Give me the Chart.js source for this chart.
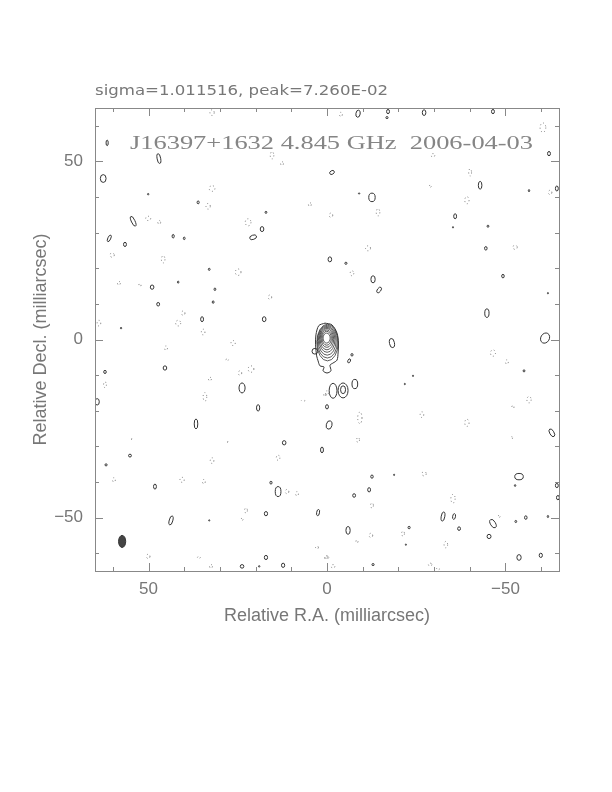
<!DOCTYPE html>
<html>
<head>
<meta charset="utf-8">
<script src="https://cdn.jsdelivr.net/npm/chart.js@4.4.0/dist/chart.umd.min.js"></script>
<style>
  html, body { margin: 0; padding: 0; background: #fff; }
  #wrap { width: 612px; height: 792px; position: relative; }
</style>
</head>
<body>
<div id="wrap"><canvas id="map"></canvas></div>
<script>
// header texts
const noteText = 'sigma=1.011516, peak=7.260E-02';
const titleText = 'J16397+1632 4.845 GHz  2006-04-03';
const xTitle = 'Relative R.A. (milliarcsec)';
const yTitle = 'Relative Decl. (milliarcsec)';
const axisMin = -65;
const axisMax = 65;

// nested contours of the core (mas)
const coreX = [0.10, 0.08, 0.05, 0.02, -0.02, -0.06, -0.10, -0.14];
const coreY = [0.40, 0.35, 0.25, 0.10, -0.10, -0.35, -0.60, -0.85];
const coreRx = [1.0, 1.3, 1.6, 1.9, 2.2, 2.5, 2.8, 3.0];
const coreRy = [1.4, 1.95, 2.45, 3.0, 3.5, 4.05, 4.6, 5.15];

// lowest contour of the core with its southern tail
const tailX = [0.56, -1.4, -2.8, -3.2, -3.1, -2.8, -1.7, -0.84, -1.1, 0.0, 1.1, 0.84, 1.96, 2.5, 2.9, 3.2, 3.1, 2.3, 0.56];
const tailY = [4.6, 4.1, 1.8, -1.0, -3.8, -5.8, -6.6, -7.2, -8.8, -9.4, -8.8, -7.7, -7.4, -6.0, -4.6, -1.5, 1.3, 3.9, 4.6];

// positive contour islands: centre, half axes (mas), tilt (deg)
const posX = [61.6, 47.1, 62.7, 50.1, 36.1, 54.3, 61.0, 56.6, 43.1, 40.0, 17.1, 18.2, 20.7, 33.0, 49.0, 41.7, 31.4, 47.3, 31.9, 35.0, 17.6, 57.7,
  -8.7, -17.1, -16.8, -27.2, -46.5, -62.2, -1.4, -42.9, -56.6, -64.4, -12.6, -9.0, -35.9, -45.1, -35.3, -44.5, -0.8, -5.3, -49.3, -12.9, -14.6, -61.9, -44.8, -61.1, -18.2,
  62.2, 64.4, 45.4, 23.8, 19.3, 36.7, 12.0, 1.4, 0.0, 55.2, 61.9, 48.2, 13.7, 15.7, 17.1, 2.5, 43.7, 33.0, 17.1, 23.8, 12.3, 19.0,
  -7.0, -6.2, -24.1, -21.8, -55.2, -0.6, -63.0, -12.6, -18.8, -53.8, -52.7, -64.4, -64.7, -11.8, -7.6, -32.5, -35.6, -37.0, -23.0, -5.9, -22.1, -46.5, -45.4, -52.9, -55.7, -61.9, -53.8, -59.9, -12.9,
  -1.7, -4.5, -4.5, -7.8, 3.4];
const posY = [55.2, 50.8, 45.2, 40.8, 38.5, 33.2, 28.4, 26.7, 29.0, 28.4, 35.7, 31.0, 28.7, 19.7, 14.7, 16.1, 14.1, 9.9, 10.5, 5.7, 5.7, 3.2,
  63.4, 64.0, 62.3, 63.7, 64.0, 52.2, 46.9, 43.3, 41.8, 42.4, 39.9, 41.0, 34.6, 31.8, 31.5, 25.6, 22.5, 21.4, 17.8, 16.9, 13.9, 13.0, 7.4, 0.4, -1.0,
  -9.1, -17.5, -8.0, -13.6, -19.2, -23.7, -29.0, -31.0, -18.9, -32.6, -35.2, -41.3, -42.7, -40.2, -48.9, -48.6, -50.8, -50.8, -61.2, -63.7, -63.4, -63.7,
  -4.3, -6.0, -10.2, -12.5, -8.8, -24.0, -26.2, -38.5, -38.0, -38.5, -41.0, -41.0, -44.4, -42.2, -43.8, -49.7, -49.7, -53.1, -52.8, -53.6, -57.6, -51.7, -55.3, -51.1, -50.0, -49.7, -61.2, -60.6, -63.2,
  -14.4, -14.3, -14.1, -12.5, -3.3];
const posRx = [0.3, 0.5, 0.8, 0.2, 0.3, 0.5, 0.4, 0.4, 0.3, 0.25, 0.25, 0.5, 1.0, 0.25, 0.5, 0.2, 0.25, 0.4, 0.25, 0.4, 0.5, 0.2,
  0.6, 0.4, 0.3, 0.5, 0.4, 0.4, 0.7, 0.5, 0.2, 0.4, 0.9, 0.2, 0.4, 0.25, 0.15, 0.35, 0.5, 0.3, 0.35, 0.6, 0.5, 0.15, 0.6, 1.2, 0.7,
  0.35, 0.6, 0.5, 0.85, 0.45, 0.5, 0.5, 0.4, 0.4, 0.4, 0.3, 0.4, 0.8, 0.3, 0.45, 0.4, 0.5, 0.15, 0.45, 0.5, 0.45, 0.2,
  0.3, 0.35, 0.15, 0.15, 0.25, 0.8, 0.6, 0.35, 0.15, 1.2, 0.2, 0.4, 0.4, 0.4, 0.4, 0.5, 0.4, 0.4, 0.3, 0.6, 0.15, 0.7, 0.55, 0.25, 0.35, 0.2, 0.6, 0.45, 0.3,
  1.1, 1.4, 0.7, 0.8, 0.8];
const posRy = [0.8, 1.4, 1.1, 0.2, 0.4, 1.5, 1.0, 0.6, 0.5, 0.35, 0.3, 0.7, 0.6, 0.3, 0.6, 0.3, 0.35, 0.5, 0.35, 0.7, 0.7, 0.2,
  1.0, 0.6, 0.3, 0.8, 0.6, 0.6, 0.5, 1.1, 0.3, 0.7, 1.2, 0.15, 0.7, 0.3, 0.2, 0.5, 0.7, 0.3, 0.5, 1.0, 0.9, 0.2, 1.2, 1.5, 1.3,
  0.45, 0.9, 0.6, 1.4, 0.9, 1.4, 0.6, 0.8, 0.6, 0.4, 0.3, 0.7, 1.4, 0.4, 0.6, 0.9, 1.3, 0.2, 0.6, 0.5, 0.6, 0.2,
  0.35, 0.6, 0.2, 0.2, 0.3, 1.2, 1.2, 0.45, 0.2, 0.9, 0.25, 0.6, 0.6, 0.6, 0.5, 1.3, 0.8, 0.5, 0.35, 1.1, 0.2, 1.3, 0.6, 0.3, 0.5, 0.3, 0.8, 0.6, 0.3,
  2.1, 2.1, 1.1, 1.3, 0.8];
const posRot = [0, -10, 0, 0, 0, -25, 25, 0, 0, 0, 0, 0, -20, 0, 0, 0, 0, 0, 0, 0, 0, 0,
  10, 0, 0, 0, 0, 0, -30, 0, 0, 0, 0, 0, 0, 0, 0, 0, 0, 0, 0, 0, 35, 0, 0, 30, -10,
  0, 0, 0, 0, 0, 0, 0, 0, 0, 0, 0, 0, 0, 0, 0, 10, 15, 0, 0, 0, 0, 0,
  0, 25, 0, 0, 0, 15, -30, 0, 0, 0, 0, 0, 0, 0, 0, 10, 10, 0, 0, 0, 0, -30, 0, 0, 0, 0, 0, 0, 0,
  0, 0, 0, 0, 0];

// negative contour islands (dotted)
const negX = [32.2, 32.2, 33.3, 15.4, 12.6, 4.8, 50.1, 47.0, 22.1, 60.2, 45.9, 24.9, 58.3, 52.4, 16.0, 63.9, 41.7, 40.3, 34.7,
  -3.9, -60.5, -29.7, -40.1, -39.2, -14.3, -1.1, -28.9, -11.5, -52.7, -7.0, -62.5,
  45.1, 26.3, 28.0, 21.3, 24.4, 32.8, 34.2, 62.2, 6.7, 0.0, 28.0, 54.9, 32.2, 13.7, 40.6, 34.5, 59.7, 11.2, 8.4, 22.7, 23.8, 50.1, 35.9, 32.5, 2.8, 0.0,
  -46.5, -50.4, -56.6, -52.1, -51.8, -9.2, -8.7, -26.6, -39.2, -27.2, -35.3, -12.6, -48.2, -21.3, -12.3, -8.4, -33.3, 0.3, -1.7, -28.9, -31.1, 0.6];
const negY = [63.7, 42.4, 37.4, 51.7, 49.4, 37.9, 34.0, 32.9, 32.9, 23.7, 22.5, 18.9, 15.8, 15.3, 11.9, 4.6, 4.6, 7.4, 2.1,
  63.2, 59.5, 51.7, 46.9, 39.1, 35.7, 34.9, 43.0, 25.6, 25.9, 18.6, 41.3,
  -2.4, -1.0, -5.7, -8.3, -9.4, -11.1, -16.1, -12.7, -17.2, -15.0, -28.7, -27.9, -34.0, -33.2, -39.4, -39.9, -39.4, -42.7, -43.3, -48.0, -50.5, -60.9, -61.2, -63.7, -58.4, -61.2,
  -3.8, -6.3, -16.9, -18.9, -27.6, -22.0, -28.2, -21.1, -23.4, -37.7, -44.7, -46.6, -49.7, -54.5, -55.0, -56.7, -57.6, -61.2, -63.7, -63.2, -64.4, -15.5];
const negRx = [0.6, 0.8, 0.6, 0.5, 0.4, 0.4, 0.7, 0.4, 0.8, 0.6, 0.5, 0.8, 0.4, 0.3, 0.5, 0.5, 0.7, 0.5, 0.5,
  0.4, 0.8, 0.5, 0.4, 0.6, 0.5, 0.5, 0.3, 0.7, 0.6, 0.5, 0.5,
  0.4, 0.6, 0.4, 0.8, 0.5, 0.4, 0.5, 0.4, 0.5, 0.4, 0.2, 0.2, 0.5, 0.5, 0.6, 0.4, 0.4, 0.5, 0.4, 0.4, 0.3, 0.5, 0.4, 0.4, 0.4, 0.5,
  0.7, 0.4, 0.6, 0.3, 0.2, 0.6, 0.4, 0.5, 0.6, 0.6, 0.6, 0.4, 0.3, 0.4, 0.5, 0.3, 0.5, 0.4, 0.5, 0.5, 0.4, 0.3];
const negRy = [0.8, 0.8, 0.8, 1.0, 0.5, 0.5, 0.6, 0.5, 1.0, 0.6, 1.0, 0.9, 0.5, 0.4, 0.6, 0.8, 0.8, 0.6, 0.8,
  0.6, 1.3, 0.5, 1.0, 1.0, 1.0, 0.6, 0.3, 0.7, 0.6, 0.7, 0.6,
  0.6, 0.7, 0.2, 0.9, 0.6, 0.5, 1.2, 0.8, 0.2, 0.6, 0.2, 0.2, 0.8, 0.7, 0.7, 0.6, 0.6, 0.6, 0.6, 0.7, 0.3, 0.6, 0.3, 0.5, 0.4, 0.4,
  0.9, 0.6, 0.9, 0.4, 0.3, 1.6, 0.7, 0.8, 1.0, 0.6, 1.2, 0.7, 0.3, 0.7, 0.6, 0.4, 0.9, 0.5, 0.5, 0.4, 0.3, 0.5];

// restoring beam
const beamX = [57.4];
const beamY = [-56.7];
const beamRx = [1.0];
const beamRy = [1.7];

const toPoints = (xs, ys) => xs.map((x, i) => ({x: x, y: ys[i]}));

const ellipsePlugin = {
    id: 'ellipses',
    afterDatasetsDraw(chart) {
        const ctx = chart.ctx;
        const xs = chart.scales.x;
        const ys = chart.scales.y;
        const unitX = Math.abs(xs.getPixelForValue(1) - xs.getPixelForValue(0));
        const unitY = Math.abs(ys.getPixelForValue(1) - ys.getPixelForValue(0));
        const area = chart.chartArea;

        ctx.save();
        ctx.beginPath();
        ctx.rect(area.left, area.top, area.right - area.left, area.bottom - area.top);
        ctx.clip();

        chart.data.datasets.forEach((ds, i) => {
            if (!ds.rx) return;
            const meta = chart.getDatasetMeta(i);
            meta.data.forEach((pt, j) => {
                const rot = ds.rot ? ds.rot[j] * Math.PI / 180 : 0;
                ctx.beginPath();
                ctx.ellipse(pt.x, pt.y, ds.rx[j] * unitX, ds.ry[j] * unitY, rot, 0, Math.PI * 2);
                if (ds.kind === 'filled') {
                    ctx.fillStyle = '#444';
                    ctx.fill();
                    ctx.setLineDash([]);
                    ctx.strokeStyle = '#333';
                    ctx.lineWidth = 1;
                    ctx.stroke();
                } else if (ds.kind === 'dotted') {
                    ctx.setLineDash([1, 2.5]);
                    ctx.strokeStyle = '#777';
                    ctx.lineWidth = 1;
                    ctx.stroke();
                } else {
                    ctx.setLineDash([]);
                    ctx.strokeStyle = '#333';
                    ctx.lineWidth = ds.lineWidth || 1;
                    ctx.stroke();
                }
            });
        });
        ctx.restore();
    }
};

const framePlugin = {
    id: 'frame',
    afterDraw(chart) {
        const ctx = chart.ctx;
        const a = chart.chartArea;
        const xs = chart.scales.x;
        const ys = chart.scales.y;

        ctx.save();
        ctx.strokeStyle = '#888';
        ctx.lineWidth = 1;
        ctx.strokeRect(a.left + 0.5, a.top + 0.5, a.right - a.left, a.bottom - a.top);

        // inward ticks every 10 mas, longer at the labelled ones
        ctx.beginPath();
        for (let v = -60; v <= 60; v += 10) {
            const len = v % 50 === 0 ? 8 : 4;
            const px = Math.round(xs.getPixelForValue(v)) + 0.5;
            ctx.moveTo(px, a.bottom);
            ctx.lineTo(px, a.bottom - len);
            ctx.moveTo(px, a.top);
            ctx.lineTo(px, a.top + len);
            const py = Math.round(ys.getPixelForValue(v)) + 0.5;
            ctx.moveTo(a.left, py);
            ctx.lineTo(a.left + len, py);
            ctx.moveTo(a.right, py);
            ctx.lineTo(a.right - len, py);
        }
        ctx.stroke();

        // header line and map title, stretched like the plotting fonts
        ctx.fillStyle = '#777';
        ctx.textBaseline = 'alphabetic';
        ctx.font = '14px "DejaVu Sans"';
        let w = ctx.measureText(noteText).width;
        ctx.save();
        ctx.translate(a.left, 95);
        ctx.scale(293 / w, 1);
        ctx.fillText(noteText, 0, 0);
        ctx.restore();

        ctx.fillStyle = '#858585';
        ctx.font = '19px "Liberation Serif"';
        w = ctx.measureText(titleText).width;
        ctx.save();
        ctx.translate(130, 149);
        ctx.scale(403 / w, 1);
        ctx.fillText(titleText, 0, 0);
        ctx.restore();

        ctx.restore();
    }
};

const tickFont = {family: '"Liberation Sans"', size: 17};
const labelFont = {family: '"Liberation Sans"', size: 18};
const fmt = v => (v < 0 ? '\u2212' + Math.abs(v) : String(v));

new Chart(document.getElementById('map'), {
    type: 'scatter',
    data: {
        datasets: [
            {
                label: 'tail',
                data: toPoints(tailX, tailY),
                showLine: true,
                borderColor: '#333',
                borderWidth: 1,
                tension: 0.3,
                pointRadius: 0,
                fill: false
            },
            {
                label: 'core',
                data: toPoints(coreX, coreY),
                rx: coreRx, ry: coreRy, kind: 'solid', lineWidth: 0.8,
                pointRadius: 0
            },
            {
                label: 'positive',
                data: toPoints(posX, posY),
                rx: posRx, ry: posRy, rot: posRot, kind: 'solid',
                pointRadius: 0
            },
            {
                label: 'negative',
                data: toPoints(negX, negY),
                rx: negRx, ry: negRy, kind: 'dotted',
                pointRadius: 0
            },
            {
                label: 'beam',
                data: toPoints(beamX, beamY),
                rx: beamRx, ry: beamRy, kind: 'filled',
                pointRadius: 0
            }
        ]
    },
    options: {
        responsive: true,
        maintainAspectRatio: false,
        animation: false,
        devicePixelRatio: 1,
        events: [],
        layout: {
            padding: {left: 0, top: 108, right: 53, bottom: 161}
        },
        plugins: {
            legend: {display: false},
            tooltip: {enabled: false}
        },
        scales: {
            x: {
                type: 'linear',
                position: 'bottom',
                min: axisMin,
                max: axisMax,
                reverse: true,
                afterFit: scale => { scale.height = 60; },
                grid: {display: false, drawTicks: false},
                border: {display: false},
                ticks: {
                    stepSize: 50,
                    includeBounds: false,
                    padding: 8,
                    color: '#777',
                    font: tickFont,
                    maxRotation: 0,
                    callback: fmt
                },
                title: {
                    display: true,
                    text: xTitle,
                    color: '#777',
                    font: labelFont,
                    padding: {top: 0, bottom: 4}
                }
            },
            y: {
                type: 'linear',
                position: 'left',
                min: axisMin,
                max: axisMax,
                afterFit: scale => { scale.width = 95; },
                grid: {display: false, drawTicks: false},
                border: {display: false},
                ticks: {
                    stepSize: 50,
                    includeBounds: false,
                    padding: 12,
                    color: '#777',
                    font: tickFont,
                    callback: fmt
                },
                title: {
                    display: true,
                    text: yTitle,
                    color: '#777',
                    font: labelFont,
                    padding: {top: 30, bottom: 0}
                }
            }
        }
    },
    plugins: [ellipsePlugin, framePlugin]
});
</script>
</body>
</html>
